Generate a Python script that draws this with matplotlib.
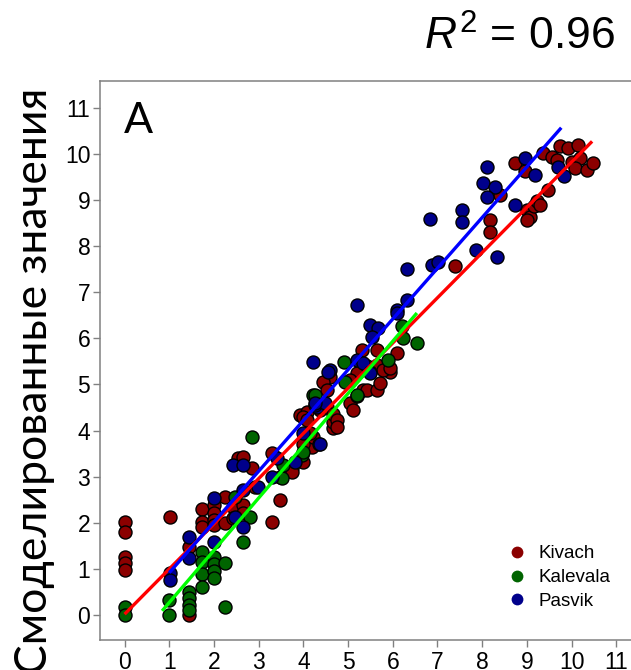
import matplotlib
matplotlib.use("Agg")
import matplotlib.pyplot as plt
from matplotlib.lines import Line2D
import numpy as np

plt.rcParams['font.family'] = ['Liberation Sans', 'DejaVu Sans']
plt.rcParams['mathtext.fontset'] = 'custom'
plt.rcParams['mathtext.rm'] = 'Liberation Sans'
plt.rcParams['mathtext.it'] = 'Liberation Sans:italic'

# Sites, colours of points and fitted lines
site_names = ["Kivach", "Kalevala", "Pasvik"]
point_colors = ["#8b0000", "#006400", "#00008b"]
line_colors = ["#ff0000", "#00ff00", "#0000ff"]

# Observed (x) and modelled (y) values per site
kivach_obs = [0, 0, 0, 0, 0, 1.01, 1.43, 1.43, 1.73, 1.73, 1.73, 1.99, 1.99, 1.99, 1.99,
              2.25, 2.25, 2.43, 2.43, 2.54, 2.66, 2.66, 2.66, 2.85, 2.92, 3.29, 3.48, 3.29,
              3.74, 3.74, 4.00, 3.93, 4.08, 4.00, 4.08, 4.19, 4.22, 4.15, 4.00, 4.37, 4.52,
              4.67, 4.67, 4.67, 4.75, 4.75, 4.60, 4.45, 4.52, 5.04, 5.12, 5.34, 5.42, 5.64,
              5.72, 5.94, 5.19, 5.04, 5.42, 5.64, 5.79, 5.94, 5.31, 5.64, 6.09, 7.39, 8.18,
              8.18, 8.40, 9.00, 9.07, 9.15, 9.22, 9.00, 9.30, 8.74, 8.96, 9.48, 9.37, 9.56,
              9.74, 9.93, 10.15, 9.67, 10.00, 10.19, 10.08, 10.34, 10.49]
kivach_mod = [2.02, 1.81, 1.27, 1.12, 0.98, 2.13, 1.48, 0.00, 2.31, 2.02, 1.92, 2.39, 2.21,
              2.06, 1.95, 2.57, 1.99, 2.35, 2.10, 3.40, 3.43, 2.39, 2.21, 3.18, 2.78, 2.02,
              2.49, 3.51, 3.18, 3.11, 3.33, 4.34, 4.41, 4.30, 4.23, 3.65, 3.87, 3.94, 3.72,
              4.45, 4.52, 4.05, 4.19, 4.37, 4.23, 4.08, 5.17, 5.06, 4.88, 4.59, 4.45, 4.88,
              4.88, 4.88, 5.03, 5.28, 5.24, 5.10, 5.39, 5.42, 5.31, 5.35, 5.75, 5.75, 5.68,
              7.56, 8.57, 8.31, 9.11, 8.79, 8.64, 8.86, 8.97, 8.57, 8.90, 9.80, 9.62, 9.22,
              10.02, 9.94, 10.16, 10.12, 10.20, 9.87, 9.83, 9.91, 9.69, 9.65, 9.80]

kalevala_obs = [0, 0, 1.00, 1.00, 1.43, 1.43, 1.43, 1.43, 1.73, 1.73, 1.73, 1.73, 1.99, 1.99,
                1.99, 1.99, 2.25, 2.25, 2.66, 2.85, 2.81, 2.47, 3.48, 3.52, 3.55, 3.96, 4.00,
                4.22, 4.26, 4.93, 5.19, 5.19, 4.90, 5.90, 6.20, 6.24, 6.54]
kalevala_mod = [0.18, 0.00, 0.33, 0.00, 0.51, 0.36, 0.22, 0.11, 1.37, 1.16, 0.90, 0.61, 1.27,
                1.10, 0.95, 0.80, 1.14, 0.17, 1.59, 3.87, 2.13, 2.57, 3.00, 2.97, 3.25, 3.47,
                3.54, 4.77, 4.77, 5.06, 4.74, 4.77, 5.49, 5.53, 6.27, 6.00, 5.89]

pasvik_obs = [1.01, 1.01, 1.43, 1.43, 1.99, 1.99, 2.43, 2.66, 2.47, 2.66, 2.66, 2.99, 3.29,
              3.40, 3.81, 4.00, 4.30, 4.26, 4.49, 4.34, 4.37, 4.26, 4.22, 4.60, 4.56, 5.19,
              5.34, 5.49, 5.49, 5.19, 5.49, 5.68, 5.53, 6.09, 6.31, 6.09, 6.31, 6.87, 7.02,
              6.83, 7.54, 7.54, 7.86, 8.33, 8.10, 8.03, 8.29, 8.10, 8.74, 8.96, 9.18, 9.70,
              9.82]
pasvik_mod = [0.91, 0.76, 1.70, 1.23, 2.53, 1.59, 3.25, 3.25, 2.13, 1.92, 2.71, 2.78, 3.00,
              3.40, 3.33, 3.94, 4.52, 4.56, 4.60, 3.72, 3.72, 4.59, 5.49, 5.31, 5.28, 5.53,
              5.46, 5.28, 5.24, 6.72, 6.29, 6.22, 6.04, 6.62, 6.83, 6.54, 7.50, 7.59, 7.66,
              8.58, 8.79, 8.53, 7.92, 7.77, 9.72, 9.36, 9.29, 9.07, 8.89, 9.91, 9.54, 9.72,
              9.51]

# Linear fits per site: slope, intercept and the span of observed values
fit_slope = [0.98, 1.133, 1.10]
fit_intercept = [0.02, -0.86, -0.18]
fit_x_start = [0.0, 0.84, 1.0]
fit_x_end = [10.46, 6.54, 9.77]

x_ticks = list(range(0, 12))
y_ticks = list(range(0, 12))
r_squared = 0.96

obs_sets = [kivach_obs, kalevala_obs, pasvik_obs]
mod_sets = [kivach_mod, kalevala_mod, pasvik_mod]

fig = plt.figure(figsize=(6.31, 6.70), dpi=100)
ax = fig.add_axes([100 / 631, 30 / 670, 531 / 631, 559 / 670])

for obs, mod, col in zip(obs_sets, mod_sets, point_colors):
    ax.scatter(obs, mod, s=88, c=col, edgecolors="black", linewidths=1.0, zorder=2)

for k in range(3):
    xs = np.array([fit_x_start[k], fit_x_end[k]])
    ax.plot(xs, fit_intercept[k] + fit_slope[k] * xs, color=line_colors[k],
            lw=2.4, solid_capstyle="butt", zorder=3)

ax.set_xlim(-0.55, 11.33)
ax.set_ylim(-0.54, 11.58)
ax.set_xticks(x_ticks)
ax.set_yticks(y_ticks)
ax.tick_params(axis="both", direction="out", length=5, width=1.0, color="#808080",
               labelsize=16.5, labelcolor="black")
ax.tick_params(axis="y", pad=2)
ax.tick_params(axis="x", pad=3)
for side in ("left", "bottom", "top"):
    ax.spines[side].set_color("#808080")
    ax.spines[side].set_linewidth(1.1)
ax.spines["right"].set_visible(False)

handles = [Line2D([], [], marker="o", ls="", color=c, markersize=8.5, markeredgewidth=0)
           for c in point_colors]
ax.legend(handles, site_names, loc="upper left", bbox_to_anchor=(498 / 631, 1 - 536 / 670),
          bbox_transform=fig.transFigure, frameon=False, fontsize=13.5,
          handlelength=1.0, handletextpad=0.65, labelspacing=0.35, borderpad=0)

fig.text(124 / 631, 1 - 133 / 670, "A", family=["Lato", "DejaVu Sans"],
         fontsize=31, va="baseline", ha="left")
fig.text(615 / 631, 1 - 50 / 670, r"$\mathit{R}^{2}$ = " + f"{r_squared:.2f}",
         fontsize=32, ha="right", va="baseline")
fig.text(47 / 631, 1 - 88 / 670, "Смоделированные значения", family=["Lato", "DejaVu Sans"],
         fontsize=32, rotation=90, rotation_mode="anchor", ha="right", va="baseline")

fig.savefig("out.png", dpi=100)
